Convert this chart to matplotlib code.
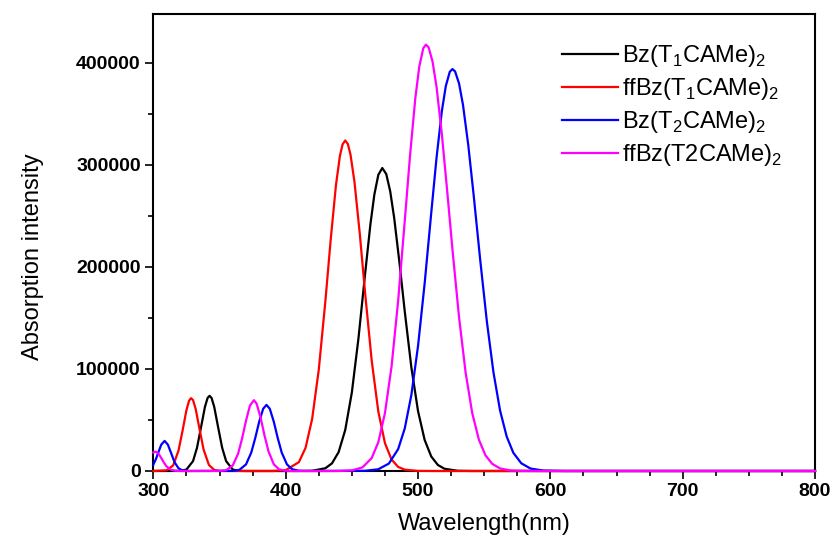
import matplotlib
matplotlib.use('Agg')
import matplotlib.pyplot as plt
from matplotlib.ticker import MultipleLocator

plt.rcParams['font.family'] = ['Liberation Sans', 'DejaVu Sans']
plt.rcParams['mathtext.fontset'] = 'custom'
plt.rcParams['mathtext.rm'] = 'Liberation Sans'

# values
black_nm = [300, 320, 325, 330, 333, 336, 339, 341, 342.5, 344,
            346, 349, 352, 355, 360, 365, 370, 410, 420, 430,
            435, 440, 445, 450, 455, 460, 464, 467, 470, 473,
            476, 479, 482, 486, 490, 495, 500, 505, 510, 515,
            520, 530, 540, 800]
black_abs = [0, 100, 1400, 9700, 22800, 42600, 62900, 71600, 73700, 71600,
             62900, 42600, 22800, 9700, 1400, 100, 0, 0, 200, 2700,
             7500, 18500, 40200, 77000, 130000, 193000, 241500, 270900, 290300, 297000,
             291100, 274100, 248000, 204000, 156200, 101300, 58800, 30500, 14200, 5900,
             2200, 200, 0, 0]

red_nm = [300, 310, 315, 319, 322, 325, 327, 328.5, 330, 332,
          335, 338, 342, 346, 350, 360, 390, 400, 410, 415,
          420, 425, 430, 434, 438, 441, 443, 445, 447, 449,
          452, 456, 460, 465, 470, 475, 480, 485, 490, 500,
          510, 800]
red_abs = [0, 600, 5500, 19900, 39000, 59600, 68900, 71400, 69500, 60800,
           40400, 20900, 5900, 1100, 100, 0, 0, 800, 8700, 22600,
           51000, 99200, 166500, 226500, 280300, 309000, 320200, 324000, 320500, 310100,
           283200, 232500, 174800, 108200, 58300, 27400, 11200, 4000, 1300, 100,
           0, 0]

blue_nm = [300, 302, 304, 306, 308.5, 311, 313, 316, 319, 322,
           326, 360, 365, 370, 374, 377, 380, 383, 385.5, 388,
           391, 394, 397, 401, 405, 410, 415, 460, 470, 478,
           485, 490, 495, 500, 505, 510, 514, 518, 521, 524,
           526, 528, 531, 534, 538, 542, 547, 552, 557, 562,
           567, 572, 578, 585, 595, 610, 800]
blue_abs = [6200, 11800, 19000, 25800, 29500, 25800, 19000, 8700, 2700, 600,
            0, 100, 1100, 6400, 18100, 32300, 48400, 61000, 64800, 61000,
            48400, 32300, 18100, 6400, 1700, 200, 0, 200, 1700, 7300,
            21500, 41800, 74700, 122400, 183700, 253000, 307100, 352700, 377300, 391300,
            394000, 391700, 379900, 358800, 319200, 271000, 206900, 146800, 96800, 59300,
            33800, 17900, 7600, 2400, 400, 0, 0]

magenta_nm = [300, 302, 304, 306, 308, 310, 313, 316, 320, 350,
              355, 360, 364, 367, 370, 373, 376, 378, 381, 384,
              387, 391, 395, 400, 405, 440, 450, 458, 465, 470,
              475, 480, 485, 490, 494, 498, 501, 504, 506, 508,
              511, 514, 518, 522, 526, 531, 536, 541, 546, 551,
              556, 562, 570, 580, 595, 800]
magenta_abs = [18200, 18900, 16800, 12700, 8200, 4500, 1400, 300, 0, 100,
               800, 5400, 16800, 31500, 49200, 64100, 69400, 66100, 52700, 34900,
               19300, 6600, 1600, 200, 0, 0, 600, 3500, 12700, 28200,
               56600, 102400, 166900, 245400, 309700, 365900, 396800, 414500, 418000, 415300,
               401300, 376500, 330400, 275200, 217500, 150700, 96200, 56600, 30700, 15300,
               7100, 2500, 500, 100, 0, 0]

labels = ['Bz(T$_\\mathregular{1}$CAMe)$_\\mathregular{2}$',
          'ffBz(T$_\\mathregular{1}$CAMe)$_\\mathregular{2}$',
          'Bz(T$_\\mathregular{2}$CAMe)$_\\mathregular{2}$',
          'ffBz(T2CAMe)$_\\mathregular{2}$']
colors = ['black', '#ff0000', '#0000ff', '#ff00ff']


fig = plt.figure(figsize=(8.32, 5.44), dpi=100)
ax = fig.add_axes([0.1843, 0.1342, 0.7953, 0.8401])

series = [(black_nm, black_abs), (red_nm, red_abs),
          (blue_nm, blue_abs), (magenta_nm, magenta_abs)]
for (x, y), lab, c in zip(series, labels, colors):
    ax.plot(x, y, color=c, lw=1.6, label=lab, clip_on=False, zorder=3)

ax.set_xlim(300, 800)
ax.set_ylim(0, 448000)
ax.xaxis.set_major_locator(MultipleLocator(100))
ax.xaxis.set_minor_locator(MultipleLocator(25))
ax.yaxis.set_major_locator(MultipleLocator(100000))
ax.yaxis.set_minor_locator(MultipleLocator(50000))
ax.ticklabel_format(axis='y', style='plain')
ax.tick_params(which='both', direction='out', width=1.2, top=False, right=False)
ax.tick_params(which='major', length=6, labelsize=14, pad=3)
ax.tick_params(which='minor', length=3.5)
for lbl in ax.get_xticklabels() + ax.get_yticklabels():
    lbl.set_fontweight('bold')
for sp in ax.spines.values():
    sp.set_linewidth(1.5)

ax.set_xlabel('Wavelength(nm)', fontsize=17, labelpad=9)
ax.set_ylabel('Absorption intensity', fontsize=17)
ax.yaxis.set_label_coords(-0.165, 0.468)

ax.legend(loc='upper left', bbox_to_anchor=(0.617, 0.936), frameon=False,
          fontsize=17, handlelength=2.4, handletextpad=0.15,
          labelspacing=0.3, borderpad=0, borderaxespad=0)

fig.savefig('out.png', dpi=100)
